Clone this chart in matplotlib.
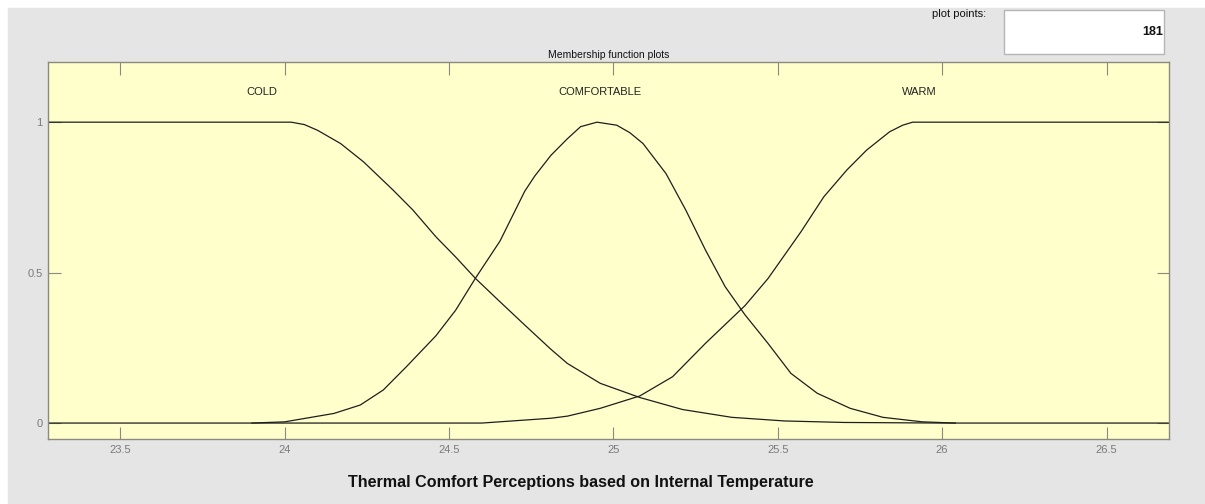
import numpy as np
from matplotlib import pyplot as plt
import matplotlib.patches as patches

plt.rcParams['font.family'] = ['Liberation Sans Narrow', 'Liberation Sans', 'DejaVu Sans']

# membership functions, values
cold_x = [23.28, 24.02, 24.06, 24.10, 24.17, 24.24, 24.33, 24.39, 24.46, 24.52,
          24.58, 24.655, 24.73, 24.81, 24.86, 24.96, 25.08, 25.21, 25.36, 25.52,
          25.70, 26.00, 26.69]
cold_y = [1.0, 1.0, 0.992, 0.973, 0.929, 0.868, 0.774, 0.708, 0.619, 0.552,
          0.481, 0.403, 0.326, 0.245, 0.198, 0.132, 0.085, 0.045, 0.019, 0.007,
          0.002, 0.0, 0.0]

comf_x = [23.90, 24.00, 24.15, 24.23, 24.30, 24.37, 24.46, 24.52, 24.58, 24.655,
          24.73, 24.76, 24.81, 24.86, 24.90, 24.95, 25.01, 25.05, 25.09, 25.16,
          25.22, 25.28, 25.34, 25.40, 25.47, 25.54, 25.62, 25.72, 25.82, 25.94,
          26.04]
comf_y = [0.0, 0.004, 0.032, 0.060, 0.11, 0.187, 0.29, 0.375, 0.481, 0.605,
          0.77, 0.82, 0.89, 0.945, 0.985, 1.0, 0.99, 0.965, 0.929, 0.829,
          0.708, 0.575, 0.453, 0.36, 0.265, 0.165, 0.099, 0.049, 0.019, 0.004,
          0.0]

warm_x = [23.28, 24.60, 24.81, 24.86, 24.96, 25.08, 25.18, 25.28, 25.40, 25.47,
          25.57, 25.64, 25.71, 25.77, 25.84, 25.88, 25.91, 26.69]
warm_y = [0.0, 0.0, 0.016, 0.023, 0.049, 0.09, 0.154, 0.265, 0.39, 0.48,
          0.635, 0.752, 0.841, 0.907, 0.968, 0.99, 1.0, 1.0]

mf_names = ['COLD', 'COMFORTABLE', 'WARM']
mf_label_x = [23.93, 24.96, 25.93]

xticks = [23.5, 24, 24.5, 25, 25.5, 26, 26.5]
yticks = [0, 0.5, 1]
n_points = 181

GRAY_BG = '#e5e5e5'
AX_BG = '#ffffcc'
EDGE = '#8a8a80'

fig = plt.figure(figsize=(12.05, 5.04), dpi=100, facecolor='white')
fig.patches.append(patches.Rectangle((8/1205, 0), 1, 496/504,
                                     transform=fig.transFigure,
                                     color=GRAY_BG, zorder=-10))

ax = fig.add_axes([48/1205, 65/504, 1121/1205, 377/504])
ax.set_facecolor(AX_BG)

for xs, ys in [(cold_x, cold_y), (comf_x, comf_y), (warm_x, warm_y)]:
    ax.plot(xs, ys, color='#1e1e1e', linewidth=0.9)

for name, lx in zip(mf_names, mf_label_x):
    ax.text(lx, 1.10, name, ha='center', va='center', fontsize=8, color='#222222')

ax.set_xlim((23.28, 26.69))
ax.set_ylim((-0.053, 1.2))
ax.set_xticks(xticks)
ax.set_xticklabels(['%g' % t for t in xticks])
ax.set_yticks(yticks)
ax.set_yticklabels(['%g' % t for t in yticks])
ax.tick_params(direction='in', length=9, width=0.8, color=EDGE,
               labelcolor='#7a7a7a', labelsize=8,
               top=True, right=True, pad=4)
for s in ax.spines.values():
    s.set_color(EDGE)
    s.set_linewidth(1.0)

ax.set_title('Membership function plots', fontsize=7.5, pad=3, color='#111111')

# plot points box
fig.text(986/1205, 1 - 14/504, 'plot points:', ha='right', va='center',
         fontsize=8, color='#111111')
fig.patches.append(patches.Rectangle((1004/1205, 1 - 54/504), 160/1205, 44/504,
                                     transform=fig.transFigure,
                                     facecolor='white', edgecolor='#b5b5b5',
                                     linewidth=1.0, zorder=1))
fig.text(1163/1205, 1 - 32/504, str(n_points), ha='right', va='center',
         fontsize=9, fontweight='bold', family=['Liberation Sans', 'DejaVu Sans'],
         color='#111111')

fig.text(581/1205, 1 - 482/504,
         'Thermal Comfort Perceptions based on Internal Temperature',
         ha='center', va='center', fontsize=11.6, fontweight='bold',
         family=['Liberation Sans', 'DejaVu Sans'], color='#111111')

plt.savefig('out.png', dpi=100, facecolor=fig.get_facecolor())
